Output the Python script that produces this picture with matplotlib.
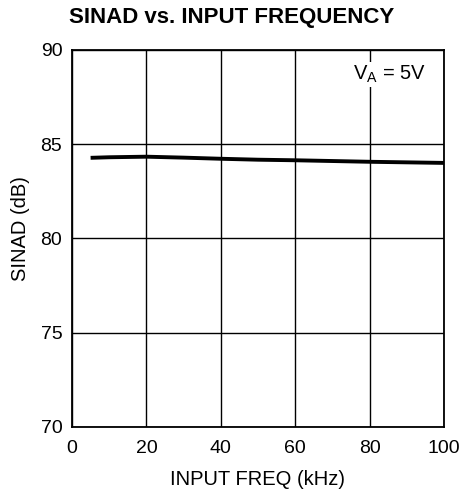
import matplotlib
matplotlib.use("Agg")
import matplotlib.pyplot as plt

freq_khz = [5, 10, 20, 30, 40, 50, 60, 70, 80, 90, 100]
sinad_db = [84.28, 84.31, 84.34, 84.29, 84.23, 84.18, 84.15, 84.11, 84.07, 84.04, 84.01]
x_ticks = [0, 20, 40, 60, 80, 100]
y_ticks = [70, 75, 80, 85, 90]

plt.rcParams['font.family'] = ['Liberation Sans', 'DejaVu Sans']

fig = plt.figure(figsize=(4.63, 4.94), dpi=100)
ax = fig.add_axes([72/463, 1-427/494, 372/463, 377/494])

ax.plot(freq_khz, sinad_db, color='black', linewidth=2.8, solid_capstyle='butt', zorder=3)

ax.set_xlim(0, 100)
ax.set_ylim(70, 90)
ax.set_xticks(x_ticks)
ax.set_yticks(y_ticks)
ax.tick_params(length=0, labelsize=14)
ax.tick_params(axis='x', pad=9)
ax.tick_params(axis='y', pad=7)
ax.grid(True, color='black', linewidth=1.0)
for s in ax.spines.values():
    s.set_linewidth(1.3)

ax.set_xlabel('INPUT FREQ (kHz)', fontsize=14.5, labelpad=10)
ax.set_ylabel('SINAD (dB)', fontsize=14.5)
ax.yaxis.set_label_coords(-0.112, 0.527)

fig.text(0.5, 1-17/494, 'SINAD vs. INPUT FREQUENCY', ha='center', va='center',
         fontsize=16, fontweight='bold')

ax.text(0.953, 0.935, r'V$_\mathregular{A}$ = 5V', transform=ax.transAxes, ha='right', va='center',
        fontsize=14.5, bbox=dict(facecolor='white', edgecolor='none', pad=1), zorder=4)

fig.savefig('out.png', dpi=100)
